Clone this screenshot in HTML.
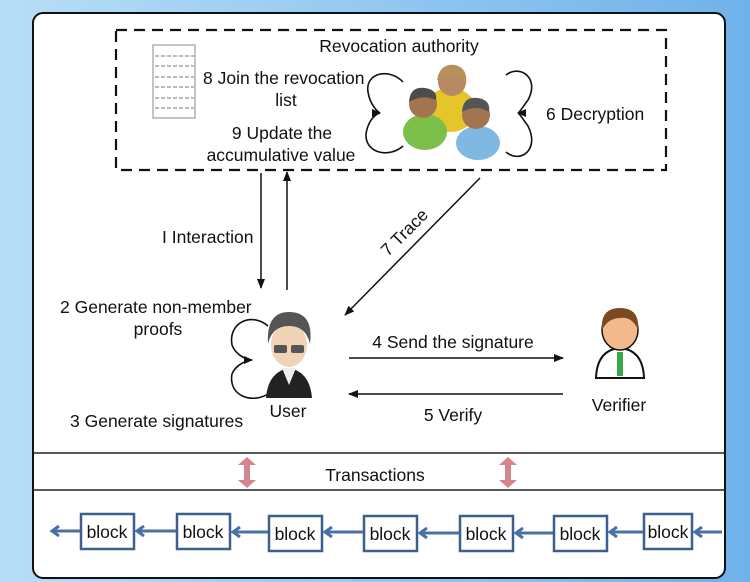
<!DOCTYPE html>
<html><head><style>
html,body{margin:0;padding:0;width:750px;height:582px;overflow:hidden;background:#a9d3f3}
svg{display:block;font-family:"Liberation Sans",Arial,sans-serif}
</style></head><body>
<svg width="750" height="582" viewBox="0 0 750 582">
<defs>
<linearGradient id="bg" x1="0" x2="1"><stop offset="0" stop-color="#b8def7"/><stop offset="1" stop-color="#6fb2ea"/></linearGradient>
<marker id="ah" markerWidth="10" markerHeight="8" refX="9" refY="4" orient="auto" markerUnits="userSpaceOnUse"><path d="M0,0 L10,4 L0,8 Z" fill="#111"/></marker>
<marker id="bh" markerWidth="12" markerHeight="12" refX="9" refY="6" orient="auto" markerUnits="userSpaceOnUse"><path d="M2,1 L9,6 L2,11" fill="none" stroke="#4a70a8" stroke-width="3"/></marker>
</defs>
<rect width="750" height="582" fill="url(#bg)"/>
<rect x="33" y="13" width="692" height="565" rx="10" fill="#fff" stroke="#111" stroke-width="2"/>
<line x1="33" y1="453" x2="725" y2="453" stroke="#222" stroke-width="1.5"/>
<line x1="33" y1="490" x2="725" y2="490" stroke="#222" stroke-width="1.5"/>
<rect x="116" y="30" width="550" height="140" fill="none" stroke="#111" stroke-width="2.2" stroke-dasharray="11,7"/>
<rect x="153" y="45" width="42" height="73" fill="#fff" stroke="#888"/>
<g stroke="#777" stroke-dasharray="4,2"><line x1="155" y1="56" x2="194" y2="56"/><line x1="155" y1="66" x2="194" y2="66"/><line x1="155" y1="77" x2="194" y2="77"/><line x1="155" y1="87" x2="194" y2="87"/><line x1="155" y1="98" x2="194" y2="98"/><line x1="155" y1="108" x2="194" y2="108"/></g>
<g font-size="17.5" fill="#111">
<text x="399" y="52" text-anchor="middle">Revocation authority</text>
<text x="203" y="84">8 Join the revocation</text>
<text x="286" y="106" text-anchor="middle">list</text>
<text x="282" y="139" text-anchor="middle">9 Update the</text>
<text x="281" y="161" text-anchor="middle">accumulative value</text>
<text x="546" y="120">6 Decryption</text>
<text x="162" y="243">I Interaction</text>
<text x="60" y="313">2 Generate non-member</text>
<text x="158" y="335" text-anchor="middle">proofs</text>
<text x="70" y="427">3 Generate signatures</text>
<text x="288" y="417" text-anchor="middle">User</text>
<text x="453" y="348" text-anchor="middle">4 Send the signature</text>
<text x="453" y="421" text-anchor="middle">5 Verify</text>
<text x="619" y="411" text-anchor="middle">Verifier</text>
<text x="375" y="481" text-anchor="middle">Transactions</text>
<text x="405" y="238" text-anchor="middle" transform="rotate(-45 405 233)">7 Trace</text>
</g>
<g fill="none" stroke="#111" stroke-width="1.6">
<path d="M403,82 C390,68 365,72 368,92 C370,105 378,112 380,113"/>
<path d="M403,146 C390,158 365,154 366,134 C368,120 376,114 380,113"/>
<path d="M506,75 C520,64 540,78 528,100 C522,108 520,112 518,113"/>
<path d="M506,152 C520,164 540,150 528,126 C522,118 520,114 518,113"/>
<path d="M268,326 C252,312 228,322 232,345 C236,356 248,360 252,360"/>
<path d="M268,394 C252,404 228,396 232,374 C236,364 248,360 252,360"/>
</g>
<path d="M372,109 L381,113 L372,117Z" fill="#111"/>
<path d="M526,109 L517,113 L526,117Z" fill="#111"/>
<path d="M244,356 L253,360 L244,364Z" fill="#111"/>
<g stroke="#111" stroke-width="1.5">
<line x1="261" y1="173" x2="261" y2="288" marker-end="url(#ah)"/>
<line x1="287" y1="290" x2="287" y2="172" marker-end="url(#ah)"/>
<line x1="480" y1="178" x2="345" y2="315" marker-end="url(#ah)"/>
<line x1="349" y1="358" x2="563" y2="358" marker-end="url(#ah)"/>
<line x1="563" y1="394" x2="349" y2="394" marker-end="url(#ah)"/>
</g>
<g>
<ellipse cx="450" cy="110" rx="26" ry="22" fill="#e6c52a"/><circle cx="452" cy="82" r="14" fill="#b58a64"/><path d="M437,80 Q440,63 455,65 Q468,68 466,84 Q460,72 437,80Z" fill="#b8905a"/>
<ellipse cx="425" cy="132" rx="22" ry="18" fill="#7cc04a"/><circle cx="423" cy="104" r="14" fill="#a37450"/><path d="M409,102 Q410,86 425,88 Q438,90 436,100 Q422,94 409,102Z" fill="#4c4c4c"/>
<ellipse cx="478" cy="143" rx="22" ry="17" fill="#7fb9e3"/><circle cx="476" cy="115" r="14" fill="#a37450"/><path d="M462,112 Q463,96 478,98 Q491,100 489,112 Q476,104 462,112Z" fill="#555"/>
</g>
<g>
<path d="M266,398 Q268,372 289,368 Q310,372 312,398Z" fill="#222"/>
<path d="M282,368 L289,385 L296,368Z" fill="#eee"/>
<ellipse cx="289" cy="345" rx="18" ry="22" fill="#f1d3b5"/>
<path d="M268,344 Q266,312 289,312 Q314,312 310,344 Q306,326 289,326 Q272,326 268,344Z" fill="#555"/>
<rect x="274" y="345" width="13" height="8" rx="2" fill="#555"/><rect x="291" y="345" width="13" height="8" rx="2" fill="#555"/>
</g>
<g>
<path d="M596,378 Q597,350 620,348 Q643,350 644,378Z" fill="#fff" stroke="#111" stroke-width="2"/>
<rect x="617" y="352" width="6" height="24" fill="#3aa64a"/>
<ellipse cx="620" cy="330" rx="18" ry="20" fill="#f4b98a" stroke="#111" stroke-width="1.5"/>
<path d="M602,330 Q600,308 620,308 Q640,308 638,330 Q632,316 620,318 Q608,318 602,330Z" fill="#7a4a20"/>
</g>
<g fill="#d4868c">
<path d="M247,457 L256,465 L250,465 L250,480 L256,480 L247,488 L238,480 L244,480 L244,465 L238,465Z"/>
<path d="M508,457 L517,465 L511,465 L511,480 L517,480 L508,488 L499,480 L505,480 L505,465 L499,465Z"/>
</g>
<g stroke="#4a70a8" stroke-width="3" fill="none">
<line x1="80" y1="531" x2="52" y2="531" marker-end="url(#bh)"/>
<line x1="176" y1="531" x2="137" y2="531" marker-end="url(#bh)"/>
<line x1="268" y1="532" x2="233" y2="532" marker-end="url(#bh)"/>
<line x1="363" y1="532" x2="325" y2="532" marker-end="url(#bh)"/>
<line x1="459" y1="533" x2="420" y2="533" marker-end="url(#bh)"/>
<line x1="553" y1="533" x2="516" y2="533" marker-end="url(#bh)"/>
<line x1="643" y1="532" x2="610" y2="532" marker-end="url(#bh)"/>
<line x1="722" y1="532" x2="695" y2="532" marker-end="url(#bh)"/>
</g>
<g fill="#fff" stroke="#3c5f8f" stroke-width="2.5">
<rect x="81" y="514" width="53" height="35"/><rect x="177" y="514" width="53" height="35"/><rect x="269" y="516" width="53" height="35"/><rect x="364" y="516" width="53" height="35"/><rect x="460" y="516" width="53" height="35"/><rect x="554" y="516" width="53" height="35"/><rect x="644" y="514" width="48" height="35"/>
</g>
<g font-size="17.5" fill="#111" text-anchor="middle">
<text x="107" y="538">block</text><text x="203" y="538">block</text><text x="295" y="540">block</text><text x="390" y="540">block</text><text x="486" y="540">block</text><text x="580" y="540">block</text><text x="668" y="538">block</text>
</g>
</svg>
</body></html>
